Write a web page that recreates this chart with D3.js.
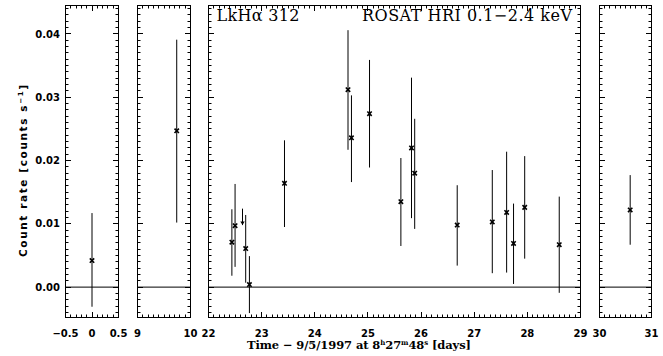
<!DOCTYPE html>
<html>
<head>
<meta charset="utf-8">
<script src="https://cdn.jsdelivr.net/npm/d3@7"></script>
<style>
  body { margin: 0; background: #fff; }
  svg { display: block; }
</style>
</head>
<body>
<div id="chart"></div>
<script>
// light curve points: time [days], count rate and error bar ends [counts/s]
const times   = [0.00, 9.74, 22.44, 22.50, 22.70, 22.77, 23.43, 24.625, 24.69, 25.03, 25.62, 25.82, 25.88, 26.68, 27.34, 27.61, 27.74, 27.95, 28.60, 30.59];
const rates   = [0.0042, 0.0247, 0.0071, 0.0097, 0.0061, 0.0004, 0.0164, 0.0312, 0.0236, 0.0274, 0.0135, 0.0220, 0.0180, 0.0098, 0.0103, 0.0118, 0.0069, 0.0126, 0.0067, 0.0122];
const errLow  = [-0.0031, 0.0102, 0.0018, 0.0032, 0.0007, -0.0041, 0.0095, 0.0217, 0.0166, 0.0189, 0.0065, 0.0109, 0.0092, 0.0034, 0.0022, 0.0023, 0.0005, 0.0045, -0.0009, 0.0067];
const errHigh = [0.0117, 0.0391, 0.0123, 0.0163, 0.0114, 0.0049, 0.0232, 0.0406, 0.0303, 0.0359, 0.0204, 0.0331, 0.0266, 0.0161, 0.0185, 0.0214, 0.0132, 0.0207, 0.0143, 0.0177];

// upper limit point
const limitTimes = [22.64];
const limitTops  = [0.0124];
const limitEnds  = [0.0098];

// panel x ranges (broken time axis) and tick labels
const panelDomains = [[-0.5, 0.5], [9, 10], [22, 29], [30, 31]];
const panelTicks   = [[-0.5, 0, 0.5], [9, 10], [22, 23, 24, 25, 26, 27, 28, 29], [30, 31]];
const yTicks = [0.00, 0.01, 0.02, 0.03, 0.04];

const W = 663, H = 356;
const plotTop = 5.5, plotBottom = 317.5;
const panelPx = [[65.5, 118.5], [137.5, 190.5], [208.5, 580.5], [599.5, 651.5]];

const svg = d3.select('#chart').append('svg').attr('width', W).attr('height', H);

const y = d3.scaleLinear().domain([-0.0048, 0.0445]).range([plotBottom, plotTop]);
const yMinor = d3.range(-0.004, 0.0445, 0.001).map(v => +v.toFixed(3));
const crisp = v => Math.round(v - 0.5) + 0.5;

panelDomains.forEach((dom, i) => {
    const x = d3.scaleLinear().domain(dom).range(panelPx[i]);
    const xMinor = d3.range(dom[0], dom[1] + 1e-9, 0.1).map(v => +v.toFixed(1));
    const g = svg.append('g');
    const [left, right] = panelPx[i];

    // inward ticks on all four sides, one path per panel
    let d = '';
    xMinor.forEach(v => { const px = crisp(x(v)); d += `M${px},${plotBottom}v-3M${px},${plotTop}v3`; });
    panelTicks[i].forEach(v => { const px = crisp(x(v)); d += `M${px},${plotBottom}v-5.5M${px},${plotTop}v5.5`; });
    yMinor.forEach(v => { const py = crisp(y(v)); d += `M${left},${py}h3M${right},${py}h-3`; });
    yTicks.forEach(v => { const py = crisp(y(v)); d += `M${left},${py}h5.5M${right},${py}h-5.5`; });
    g.append('path').attr('d', d).attr('stroke', '#000').attr('stroke-width', 1).attr('fill', 'none');

    g.append('rect')
        .attr('x', left).attr('y', plotTop)
        .attr('width', right - left).attr('height', plotBottom - plotTop)
        .attr('fill', 'none').attr('stroke', '#000').attr('stroke-width', 1);

    // zero line
    g.append('line')
        .attr('x1', left).attr('x2', right)
        .attr('y1', y(0)).attr('y2', y(0))
        .attr('stroke', '#000').attr('stroke-width', 1);

    // x tick labels
    g.selectAll('text.xt').data(panelTicks[i]).enter().append('text')
        .attr('class', 'xt')
        .attr('x', v => x(v))
        .attr('y', 336.5)
        .attr('text-anchor', 'middle')
        .attr('font-family', 'DejaVu Sans')
        .attr('font-weight', 'bold')
        .attr('font-size', 10)
        .text(v => v === 0 ? '0' : (Number.isInteger(v) ? v : d3.format('.1f')(v)));

    // points in this panel
    const idx = d3.range(times.length).filter(k => times[k] >= dom[0] && times[k] <= dom[1]);
    g.selectAll('line.err').data(idx).enter().append('line')
        .attr('class', 'err')
        .attr('x1', k => x(times[k])).attr('x2', k => x(times[k]))
        .attr('y1', k => y(errHigh[k])).attr('y2', k => y(errLow[k]))
        .attr('stroke', '#000').attr('stroke-width', 1);
    idx.forEach(k => {
        const cx = x(times[k]), cy = y(rates[k]), s = 2.2;
        g.append('path')
            .attr('d', `M${cx - s},${cy - s}L${cx + s},${cy + s}M${cx - s},${cy + s}L${cx + s},${cy - s}`)
            .attr('stroke', '#000').attr('stroke-width', 1.6).attr('fill', 'none');
    });

    // upper limits
    limitTimes.forEach((t, k) => {
        if (t < dom[0] || t > dom[1]) return;
        const cx = x(t);
        g.append('line')
            .attr('x1', cx).attr('x2', cx)
            .attr('y1', y(limitTops[k])).attr('y2', y(limitEnds[k]))
            .attr('stroke', '#000').attr('stroke-width', 1);
        const ay = y(limitEnds[k]);
        g.append('path')
            .attr('d', `M${cx - 2.2},${ay - 3.5}L${cx + 2.2},${ay - 3.5}L${cx},${ay}Z`)
            .attr('fill', '#000');
    });
});

// y tick labels (first panel only)
svg.selectAll('text.yt').data(yTicks).enter().append('text')
    .attr('class', 'yt')
    .attr('x', 60)
    .attr('y', v => y(v))
    .attr('dy', '0.36em')
    .attr('text-anchor', 'end')
    .attr('font-family', 'DejaVu Sans')
    .attr('font-weight', 'bold')
    .attr('font-size', 10)
    .text(v => d3.format('.2f')(v));

// y axis title
const yt = svg.append('text')
    .attr('transform', 'translate(27,171) rotate(-90)')
    .attr('text-anchor', 'middle')
    .attr('font-family', 'DejaVu Sans')
    .attr('font-weight', 'bold')
    .attr('font-size', 10.5)
    .attr('textLength', 172)
    .attr('lengthAdjust', 'spacing');
yt.append('tspan').text('Count rate [counts s');
yt.append('tspan').attr('font-size', 7).attr('dy', -4).text('−1');
yt.append('tspan').attr('dy', 4).text(']');

// x axis title
const xt = svg.append('text')
    .attr('x', 359)
    .attr('y', 348.5)
    .attr('text-anchor', 'middle')
    .attr('font-family', 'DejaVu Serif')
    .attr('font-weight', 'bold')
    .attr('font-size', 11.5)
    .attr('textLength', 224)
    .attr('lengthAdjust', 'spacing');
xt.append('tspan').text('Time − 9/5/1997 at 8');
xt.append('tspan').attr('font-size', 7).attr('dy', -4).text('h');
xt.append('tspan').attr('dy', 4).text('27');
xt.append('tspan').attr('font-size', 7).attr('dy', -4).text('m');
xt.append('tspan').attr('dy', 4).text('48');
xt.append('tspan').attr('font-size', 7).attr('dy', -4).text('s');
xt.append('tspan').attr('dy', 4).text(' [days]');

// annotations in the main panel
svg.append('text')
    .attr('x', 216.5).attr('y', 21)
    .attr('font-family', 'DejaVu Serif')
    .attr('font-size', 16)
    .attr('textLength', 83)
    .attr('lengthAdjust', 'spacing')
    .text('LkHα 312');
svg.append('text')
    .attr('x', 572).attr('y', 21)
    .attr('text-anchor', 'end')
    .attr('font-family', 'DejaVu Serif')
    .attr('font-size', 16)
    .attr('textLength', 210)
    .attr('lengthAdjust', 'spacing')
    .text('ROSAT HRI 0.1−2.4 keV');
</script>
</body>
</html>
